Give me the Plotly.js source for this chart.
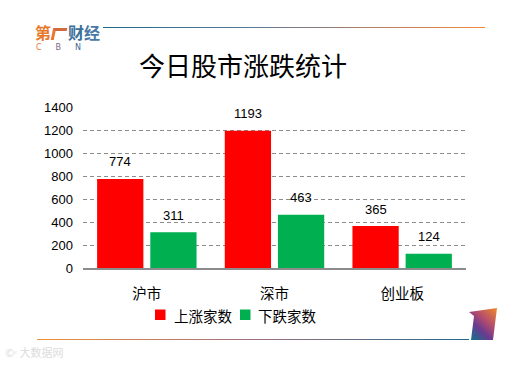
<!DOCTYPE html>
<html>
<head>
<meta charset="utf-8">
<script src="https://cdn.plot.ly/plotly-3.0.1.min.js"></script>
<style>
  html, body { margin: 0; padding: 0; background: #fff; }
  #wrap { position: relative; width: 528px; height: 365px; overflow: hidden; }
  #chart { position: absolute; left: 0; top: 0; width: 528px; height: 365px; }
  .deco { position: absolute; pointer-events: none; }
</style>
</head>
<body>
<div id="wrap">
  <div id="chart"></div>
  <!-- top rule -->
  <div class="deco" style="left:103px;top:26.5px;width:382px;height:1.5px;background:linear-gradient(to right,#1f6a8a,#5a7a96 40%,#c08060 75%,#f08a3a);"></div>
  <!-- bottom rule -->
  <div class="deco" style="left:37px;top:338.5px;width:432px;height:1.5px;background:linear-gradient(to right,#f0903a,#a07080 50%,#1f6a8a);"></div>
  <!-- logo -->
  <div class="deco" style="left:35px;top:24px;font-family:'Noto Sans CJK SC';font-size:16px;font-weight:700;line-height:17px;letter-spacing:0px;white-space:nowrap;">
    <span style="color:#e8782a;">第</span><span style="display:inline-block;width:14px;height:12px;border-left:3px solid #e8782a;border-top:3px solid #d06a40;box-sizing:border-box;transform:skewX(-12deg);margin:0 2px 0 1px;vertical-align:-1px;"></span><span style="color:#3a6f9a;">财</span><span style="color:#4a78a6;">经</span>
  </div>
  <div class="deco" style="left:36px;top:43px;font-family:'DejaVu Sans';font-size:8px;line-height:9px;letter-spacing:14px;white-space:nowrap;">
    <span style="color:#e07a3a;">C</span><span style="color:#7a6a8a;">B</span><span style="color:#3a6a90;">N</span>
  </div>
  <!-- bottom-right emblem -->
  <svg class="deco" style="left:460px;top:300px;" width="50" height="45">
    <defs>
      <linearGradient id="g1" x1="1" y1="0" x2="0.2" y2="1">
        <stop offset="0" stop-color="#f08a2a"/>
        <stop offset="0.45" stop-color="#b04a70"/>
        <stop offset="0.7" stop-color="#6a3a90"/>
        <stop offset="1" stop-color="#1f6a8a"/>
      </linearGradient>
    </defs>
    <polygon points="9,12 37,8 33,40 11,40 14,16" fill="url(#g1)"/>
  </svg>
  <!-- faint watermark -->
  <div class="deco" style="left:5px;top:346px;font-family:'Noto Sans CJK SC';font-size:11px;line-height:12px;color:#dcdcdc;white-space:nowrap;">©ᶜ 大数据网</div>
</div>
<script>
const categories = ['沪市', '深市', '创业板'];
const seriesNames = ['上涨家数', '下跌家数'];
const upValues = [774, 1193, 365];
const downValues = [311, 463, 124];
const yTicks = [0, 200, 400, 600, 800, 1000, 1200, 1400];

const colors = ['#FF0000', '#00B050'];
const seriesValues = [upValues, downValues];
const bargap = 0.167;

const traces = seriesValues.map((vals, k) => ({
  type: 'bar',
  name: seriesNames[k],
  x: categories,
  y: vals,
  marker: { color: colors[k], line: { width: 0 } },
  hoverinfo: 'x+y+name',
  showlegend: false
}));

// value labels above each bar, offset to the bar centre within its group
const slot = (1 - bargap) / 2;
const annotations = [];
seriesValues.forEach((vals, k) => {
  const off = (k - 0.5) * slot;
  vals.forEach((v, i) => {
    annotations.push({
      x: i + off, y: v, xref: 'x', yref: 'y',
      text: String(v), showarrow: false,
      yanchor: 'middle', yshift: 17,
      font: { family: 'Liberation Sans, Arial', size: 13, color: '#000' }
    });
  });
});

// manual legend (paper coords relative to plot area: x 83..466, y 268..107)
const px2x = p => (p - 83) / 383;
const py2y = p => (268 - p) / 161;
const legendItems = [
  { sq: 155, tx: 172 },
  { sq: 240, tx: 256 }
];
const shapes = [];
legendItems.forEach((it, k) => {
  shapes.push({
    type: 'rect', xref: 'paper', yref: 'paper',
    x0: px2x(it.sq), x1: px2x(it.sq + 10.5),
    y0: py2y(320), y1: py2y(309.5),
    fillcolor: colors[k], line: { width: 0 }
  });
  annotations.push({
    xref: 'paper', yref: 'paper', x: px2x(it.tx), y: py2y(315),
    xanchor: 'left', yanchor: 'middle', showarrow: false,
    text: seriesNames[k],
    font: { family: 'Noto Sans CJK SC', size: 14.5, color: '#000' }
  });
});

const layout = {
  width: 528, height: 365,
  margin: { l: 83, r: 62, t: 107, b: 97, pad: 0 },
  paper_bgcolor: 'rgba(0,0,0,0)',
  plot_bgcolor: 'rgba(0,0,0,0)',
  barmode: 'group',
  bargap: bargap,
  bargroupgap: 0.13,
  showlegend: false,
  title: {
    text: '今日股市涨跌统计',
    font: { family: 'Noto Sans CJK SC', size: 26, color: '#000' },
    xref: 'container', yref: 'container',
    x: 243 / 528, xanchor: 'center',
    y: 1 - 67 / 365, yanchor: 'middle'
  },
  xaxis: {
    type: 'category',
    showgrid: false,
    showline: true, linecolor: '#8c8c8c', linewidth: 1.5,
    ticks: '', ticklabelstandoff: 12,
    tickfont: { family: 'Noto Sans CJK SC', size: 14.5, color: '#000' },
    fixedrange: true
  },
  yaxis: {
    range: [0, 1400],
    tickvals: yTicks,
    ticktext: yTicks.map(String),
    showgrid: true, gridcolor: '#8c8c8c', gridwidth: 1, griddash: '4px,3px',
    zeroline: false, showline: false,
    ticks: '', ticklabelstandoff: 9,
    tickfont: { family: 'Liberation Sans, Arial', size: 13, color: '#000' },
    fixedrange: true
  },
  annotations: annotations,
  shapes: shapes
};

Plotly.newPlot('chart', traces, layout, { displayModeBar: false, staticPlot: true });
</script>
</body>
</html>
